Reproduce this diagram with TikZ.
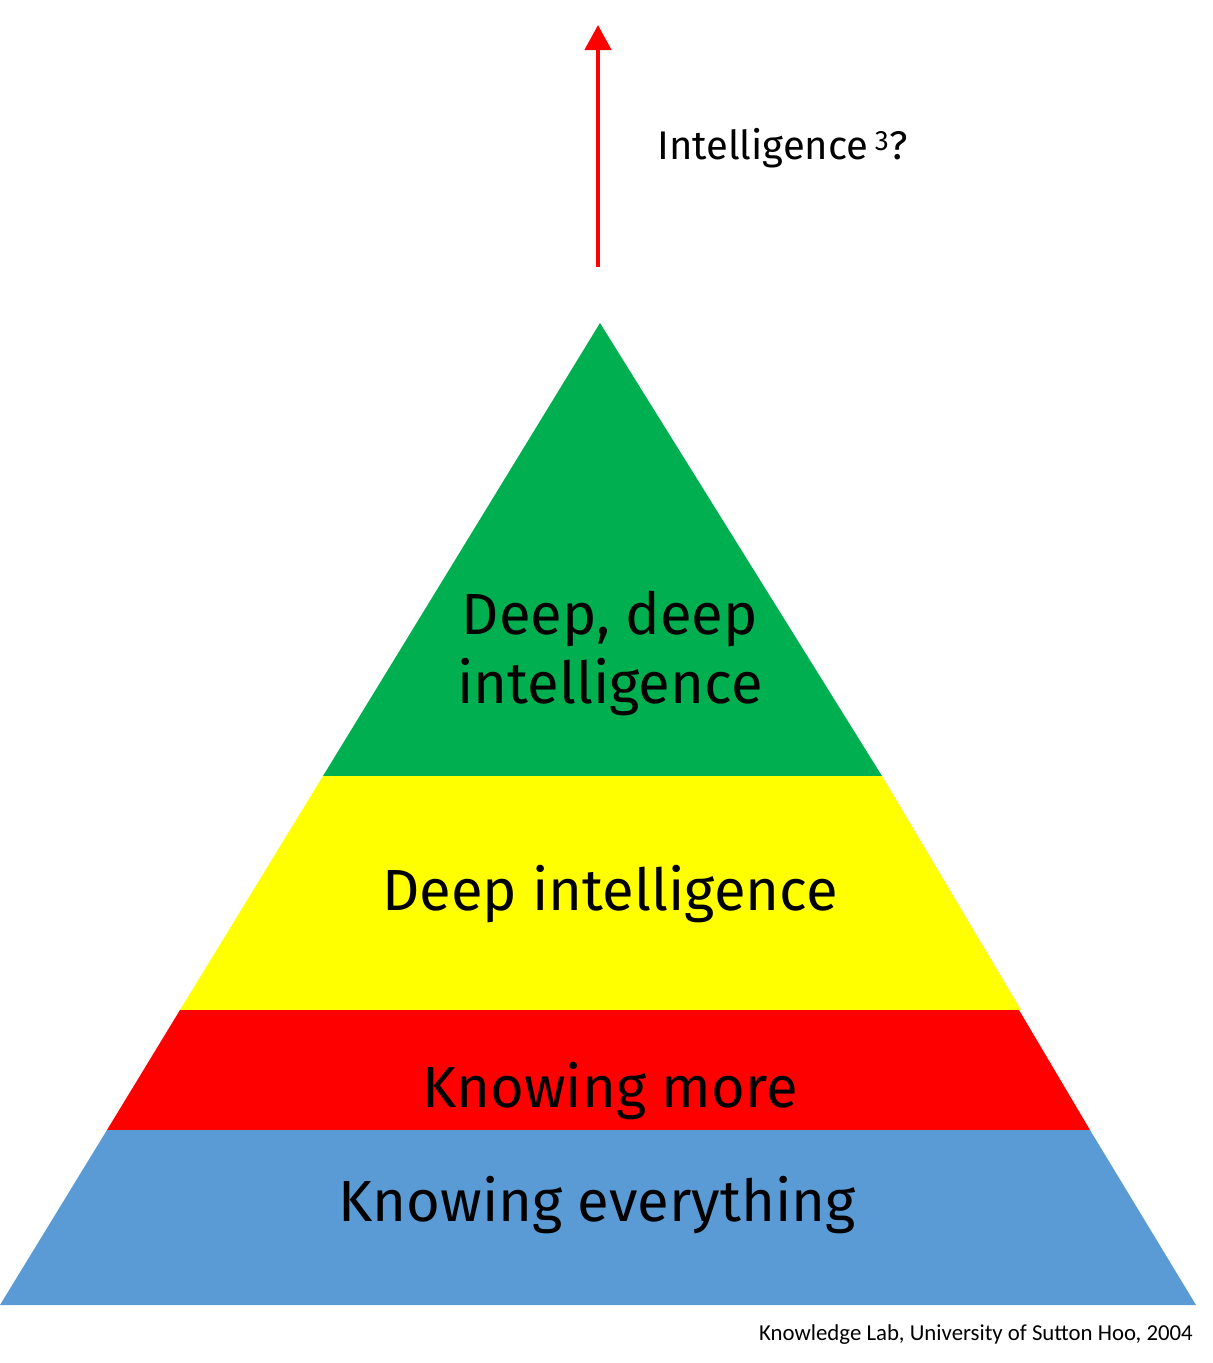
\documentclass[tikz,border=0pt]{standalone}
\usepackage{fontspec}
\setmainfont{Fira Sans}
\newfontfamily\captionfont{Carlito}
\usetikzlibrary{arrows.meta}

\definecolor{topgreen}{HTML}{00B050}
\definecolor{midyellow}{HTML}{FFFF00}
\definecolor{lowred}{HTML}{FF0000}
\definecolor{baseblue}{HTML}{5B9BD5}

\begin{document}
\begin{tikzpicture}[x=1pt, y=-1pt, >={Triangle[width=26pt,length=25pt]},
    band/.style={draw=none},
    layer/.style={align=center, font=\fontsize{58}{69}\selectfont, text=black, inner sep=0pt},
    note/.style={anchor=west, font=\fontsize{40}{46}\selectfont, inner sep=0pt}]

    \useasboundingbox (0,0) rectangle (1213,1363);

    % pyramid bands, top to bottom
    \fill[band, topgreen] (600,323) -- (882,776) -- (323,776) -- cycle;
    \fill[band, midyellow] (323,776) -- (882,776) -- (1021,1010) -- (180,1010) -- cycle;
    \fill[band, lowred] (180,1010) -- (1019,1010) -- (1090,1130) -- (107,1130) -- cycle;
    \fill[band, baseblue] (107,1130) -- (1090,1130) -- (1196,1305) -- (0,1305) -- cycle;

    \node[layer] (deepdeep) at (610,653) {Deep, deep\\intelligence};
    \node[layer] (deep) at (610,894) {Deep intelligence};
    \node[layer] (more) at (610,1091) {Knowing more};
    \node[layer] (every) at (597,1205) {Knowing everything};

    % the arrow out of the top
    \coordinate (start) at (598,267);
    \coordinate (tip) at (598,25);
    \draw[->, lowred, line width=4.5pt] (start) -- (tip);
    \node[note] (cube) at (657,148) {Intelligence\,\textsuperscript{3}?};

    \node[anchor=east, font=\captionfont\fontsize{22.8}{27}\selectfont, inner sep=0pt] (credit) at (1193,1335)
        {Knowledge Lab, University of Sutton Hoo, 2004};
\end{tikzpicture}
\end{document}
